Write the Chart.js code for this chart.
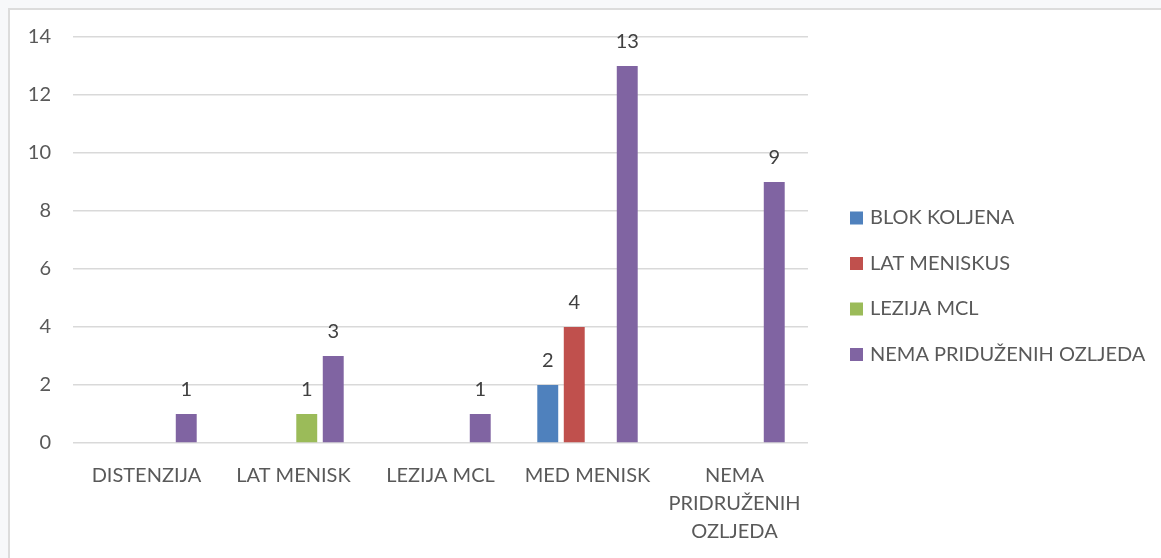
<!DOCTYPE html>
<html>
<head>
<meta charset="utf-8">
<script src="https://cdn.jsdelivr.net/npm/chart.js@4/dist/chart.umd.min.js"></script>
<style>
  html, body { margin: 0; padding: 0; background: #f7f8fa; overflow: hidden; }
  #panel { position: absolute; left: 8px; top: 8px; width: 1200px; height: 600px;
           background: #fff; border-left: 2px solid #dcdcdc; border-top: 2px solid #dcdcdc; }
  #wrap { position: absolute; left: 0; top: 0; width: 1161px; height: 558px; }
</style>
</head>
<body>
<div id="panel"></div>
<div id="wrap"><canvas id="chart"></canvas></div>
<script>
const categories = ["DISTENZIJA", "LAT MENISK", "LEZIJA MCL", "MED MENISK", ["NEMA", "PRIDRUŽENIH", "OZLJEDA"]];
const seriesNames = ["BLOK KOLJENA", "LAT MENISKUS", "LEZIJA MCL", "NEMA PRIDUŽENIH OZLJEDA"];
const blokKoljena = [null, null, null, 2, null];
const latMeniskus = [null, null, null, 4, null];
const lezijaMcl = [null, 1, null, null, null];
const nemaPridruzenih = [1, 3, 1, 13, 9];
const colors = ["#4f81bd", "#c0504d", "#9bbb59", "#8064a2"];

const FONT = "Lato, 'Open Sans', sans-serif";
const TEXT = "#595959";

const values = [blokKoljena, latMeniskus, lezijaMcl, nemaPridruzenih];

const valueLabels = {
  id: "valueLabels",
  afterDatasetsDraw(chart) {
    const c = chart.ctx;
    c.save();
    c.font = "20px " + FONT;
    c.fillStyle = "#404040";
    c.textAlign = "center";
    c.textBaseline = "middle";
    chart.data.datasets.forEach((ds, i) => {
      chart.getDatasetMeta(i).data.forEach((bar, j) => {
        const v = ds.data[j];
        if (v === null) return;
        c.fillText(String(v), bar.x, bar.y - 24);
      });
    });
    c.restore();
  }
};

const sideLegend = {
  id: "sideLegend",
  afterDraw(chart) {
    const c = chart.ctx;
    c.save();
    c.font = "20px " + FONT;
    c.textBaseline = "middle";
    c.textAlign = "left";
    chart.data.datasets.forEach((ds, i) => {
      const y = 218 + i * 45.5;
      c.fillStyle = ds.backgroundColor;
      c.fillRect(850, y - 6.5, 13, 13);
      c.fillStyle = TEXT;
      c.fillText(ds.label, 870, y);
    });
    c.restore();
  }
};

new Chart(document.getElementById("chart"), {
  type: "bar",
  data: {
    labels: categories,
    datasets: seriesNames.map((name, i) => ({
      label: name,
      data: values[i],
      backgroundColor: colors[i],
      categoryPercentage: 0.721,
      barPercentage: 0.79
    }))
  },
  options: {
    responsive: true,
    maintainAspectRatio: false,
    animation: false,
    events: [],
    layout: { padding: { left: 0, right: 353, top: 37, bottom: 0 } },
    plugins: {
      legend: { display: false },
      tooltip: { enabled: false }
    },
    scales: {
      x: {
        grid: { display: false },
        border: { display: false },
        ticks: {
          color: TEXT,
          font: { family: FONT, size: 20, lineHeight: 1.42 },
          padding: 10,
          maxRotation: 0,
          autoSkip: false
        },
        afterFit: (s) => { s.height = 115; }
      },
      y: {
        min: 0,
        max: 14,
        grid: { color: "#d9d9d9", lineWidth: 1.5, drawTicks: false },
        border: { display: false },
        ticks: {
          stepSize: 2,
          color: TEXT,
          font: { family: FONT, size: 20 },
          padding: 22
        },
        afterFit: (s) => { s.width = 73; }
      }
    }
  },
  plugins: [valueLabels, sideLegend]
});
</script>
</body>
</html>
